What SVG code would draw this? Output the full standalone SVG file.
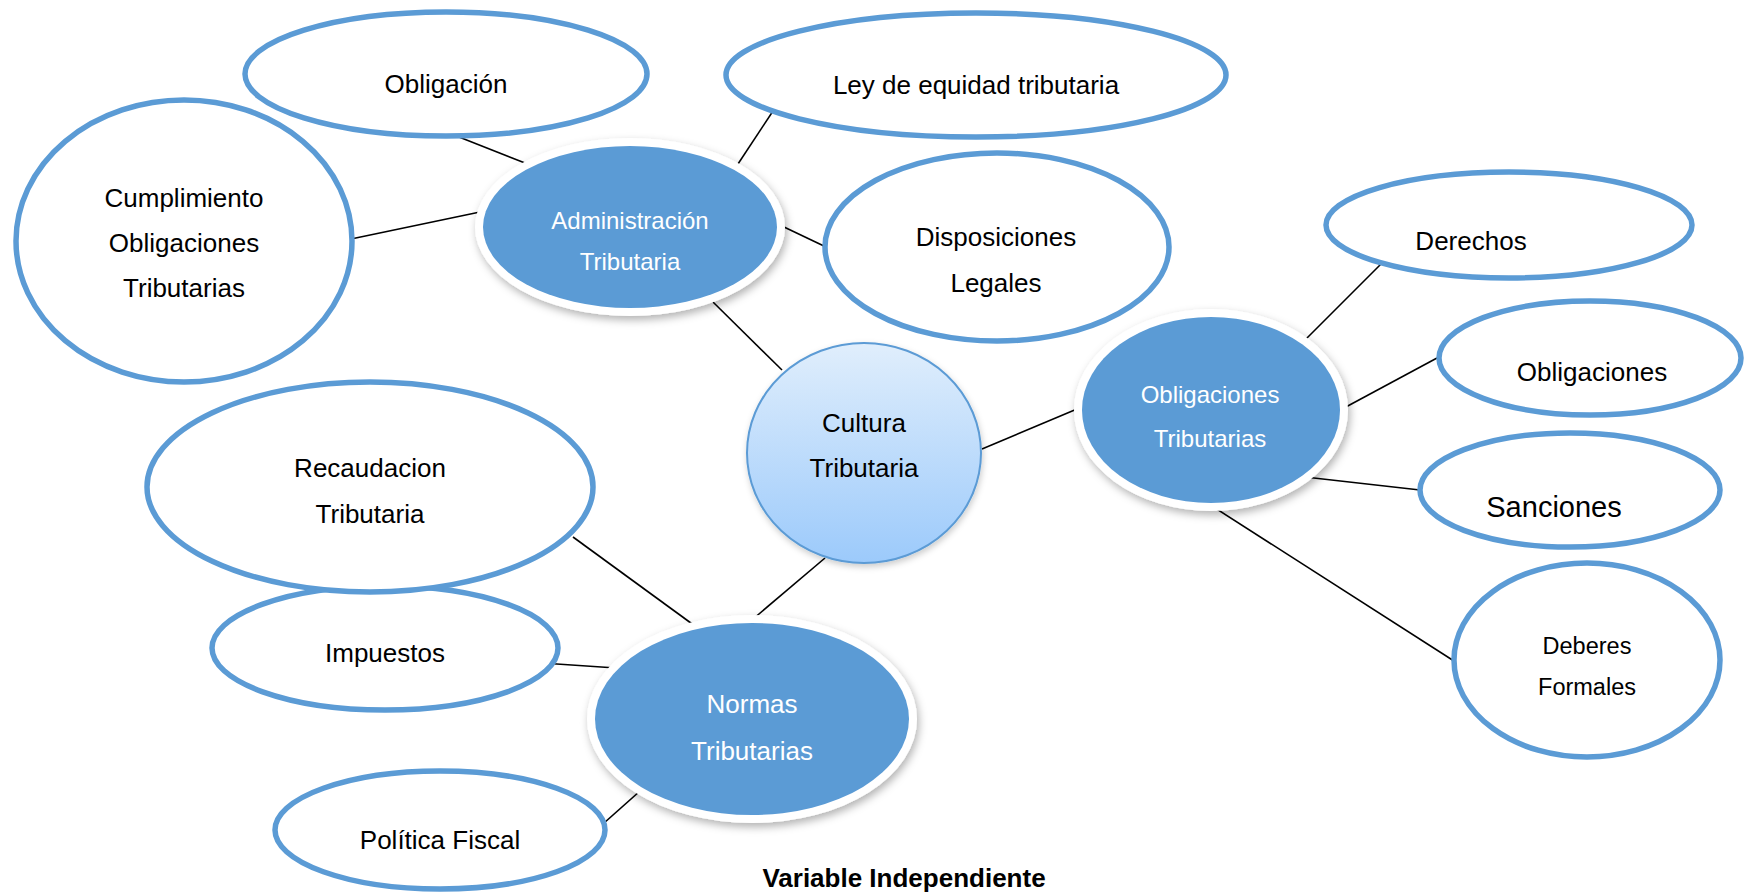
<svg xmlns="http://www.w3.org/2000/svg" width="1744" height="893" viewBox="0 0 1744 893">
  <defs>
    <style>
      .outline { fill: #ffffff; stroke: #5B9BD5; stroke-width: 5.5; }
      .ring { fill: #ffffff; filter: url(#shadow); }
      .core { fill: #5B9BD5; }
      .link { stroke: #000000; stroke-width: 1.6; fill: none; }
      .t { font-family: "Liberation Sans", Arial, sans-serif; font-size: 26px; fill: #000000; text-anchor: middle; }
      .w { font-family: "Liberation Sans", Arial, sans-serif; fill: #ffffff; text-anchor: middle; }
      .title { font-family: "Liberation Sans", Arial, sans-serif; font-size: 26px; font-weight: bold; fill: #000000; text-anchor: middle; }
    </style>
    <filter id="shadow" x="-20%" y="-20%" width="140%" height="150%">
      <feDropShadow dx="2" dy="4" stdDeviation="4" flood-color="#000000" flood-opacity="0.3"/>
    </filter>
    <filter id="softShadow" x="-20%" y="-20%" width="140%" height="150%">
      <feDropShadow dx="1" dy="3" stdDeviation="3" flood-color="#000000" flood-opacity="0.2"/>
    </filter>
    <linearGradient id="cultureFill" x1="0" y1="0" x2="0" y2="1">
      <stop offset="0" stop-color="#E0EEFC"/>
      <stop offset="1" stop-color="#9CCAFB"/>
    </linearGradient>
  </defs>

  <rect width="1744" height="893" fill="#ffffff"/>

  <!-- connectors -->
  <g id="connectors">
    <line class="link" x1="459" y1="137" x2="525" y2="163"/>
    <line class="link" x1="351" y1="239" x2="480" y2="212"/>
    <line class="link" x1="775" y1="108" x2="736" y2="167"/>
    <line class="link" x1="784" y1="227" x2="826" y2="247"/>
    <line class="link" x1="713" y1="302" x2="782" y2="370"/>
    <line class="link" x1="982" y1="449" x2="1077" y2="409"/>
    <line class="link" x1="1305" y1="340" x2="1381" y2="264"/>
    <line class="link" x1="1344" y1="408" x2="1437" y2="358"/>
    <line class="link" x1="1305" y1="477" x2="1420" y2="490"/>
    <line class="link" x1="1212" y1="506" x2="1454" y2="661"/>
    <line class="link" x1="825" y1="558" x2="753" y2="619"/>
    <line class="link" x1="573" y1="537" x2="695" y2="626"/>
    <line class="link" x1="542" y1="663" x2="616" y2="668"/>
    <line class="link" x1="604" y1="823" x2="640" y2="791"/>
  </g>

  <!-- outer concept nodes -->
  <g id="cumplimiento">
    <ellipse class="outline" cx="184" cy="241" rx="168" ry="141"/>
    <text class="t" x="184" y="207">Cumplimiento</text>
    <text class="t" x="184" y="252">Obligaciones</text>
    <text class="t" x="184" y="297">Tributarias</text>
  </g>

  <g id="obligacion">
    <ellipse class="outline" cx="446" cy="74" rx="201" ry="62"/>
    <text class="t" x="446" y="93">Obligación</text>
  </g>

  <g id="ley-equidad">
    <ellipse class="outline" cx="976" cy="75" rx="250" ry="62"/>
    <text class="t" x="976" y="94">Ley de equidad tributaria</text>
  </g>

  <g id="disposiciones">
    <ellipse class="outline" cx="997" cy="247" rx="172" ry="94"/>
    <text class="t" x="996" y="246">Disposiciones</text>
    <text class="t" x="996" y="292">Legales</text>
  </g>

  <g id="derechos">
    <ellipse class="outline" cx="1509" cy="225" rx="183" ry="53"/>
    <text class="t" x="1471" y="250">Derechos</text>
  </g>

  <g id="obligaciones">
    <ellipse class="outline" cx="1590" cy="358" rx="151" ry="57"/>
    <text class="t" x="1592" y="381">Obligaciones</text>
  </g>

  <g id="sanciones">
    <ellipse class="outline" cx="1570" cy="490" rx="150" ry="57"/>
    <text class="t" x="1554" y="517" style="font-size:29px">Sanciones</text>
  </g>

  <g id="deberes-formales">
    <ellipse class="outline" cx="1587" cy="660" rx="133" ry="97"/>
    <text class="t" x="1587" y="654" style="font-size:23.5px">Deberes</text>
    <text class="t" x="1587" y="695" style="font-size:23.5px">Formales</text>
  </g>

  <g id="impuestos">
    <ellipse class="outline" cx="385" cy="648" rx="173" ry="62"/>
    <text class="t" x="385" y="662">Impuestos</text>
  </g>

  <g id="recaudacion">
    <ellipse class="outline" cx="370" cy="487" rx="223" ry="105"/>
    <text class="t" x="370" y="477">Recaudacion</text>
    <text class="t" x="370" y="523">Tributaria</text>
  </g>

  <g id="politica-fiscal">
    <ellipse class="outline" cx="440" cy="830" rx="165" ry="59"/>
    <text class="t" x="440" y="849">Política Fiscal</text>
  </g>

  <!-- filled hub nodes -->
  <g id="administracion">
    <ellipse class="ring" cx="630" cy="227" rx="155" ry="89"/>
    <ellipse class="core" cx="630" cy="227" rx="147" ry="81"/>
    <text class="w" x="630" y="229" font-size="24">Administración</text>
    <text class="w" x="630" y="270" font-size="24">Tributaria</text>
  </g>

  <g id="obligaciones-tributarias">
    <ellipse class="ring" cx="1211" cy="410" rx="137" ry="101"/>
    <ellipse class="core" cx="1211" cy="410" rx="129" ry="93"/>
    <text class="w" x="1210" y="403" font-size="24">Obligaciones</text>
    <text class="w" x="1210" y="447" font-size="24">Tributarias</text>
  </g>

  <g id="normas-tributarias">
    <ellipse class="ring" cx="752" cy="719" rx="165" ry="104"/>
    <ellipse class="core" cx="752" cy="719" rx="157" ry="96"/>
    <text class="w" x="752" y="713" font-size="26">Normas</text>
    <text class="w" x="752" y="760" font-size="26">Tributarias</text>
  </g>

  <!-- central concept -->
  <g id="cultura-tributaria">
    <ellipse cx="864" cy="453" rx="117" ry="110" fill="url(#cultureFill)" stroke="#5B9BD5" stroke-width="2" filter="url(#softShadow)"/>
    <text class="t" x="864" y="432">Cultura</text>
    <text class="t" x="864" y="477">Tributaria</text>
  </g>

  <g id="caption">
    <text class="title" x="904" y="887">Variable Independiente</text>
  </g>
</svg>
